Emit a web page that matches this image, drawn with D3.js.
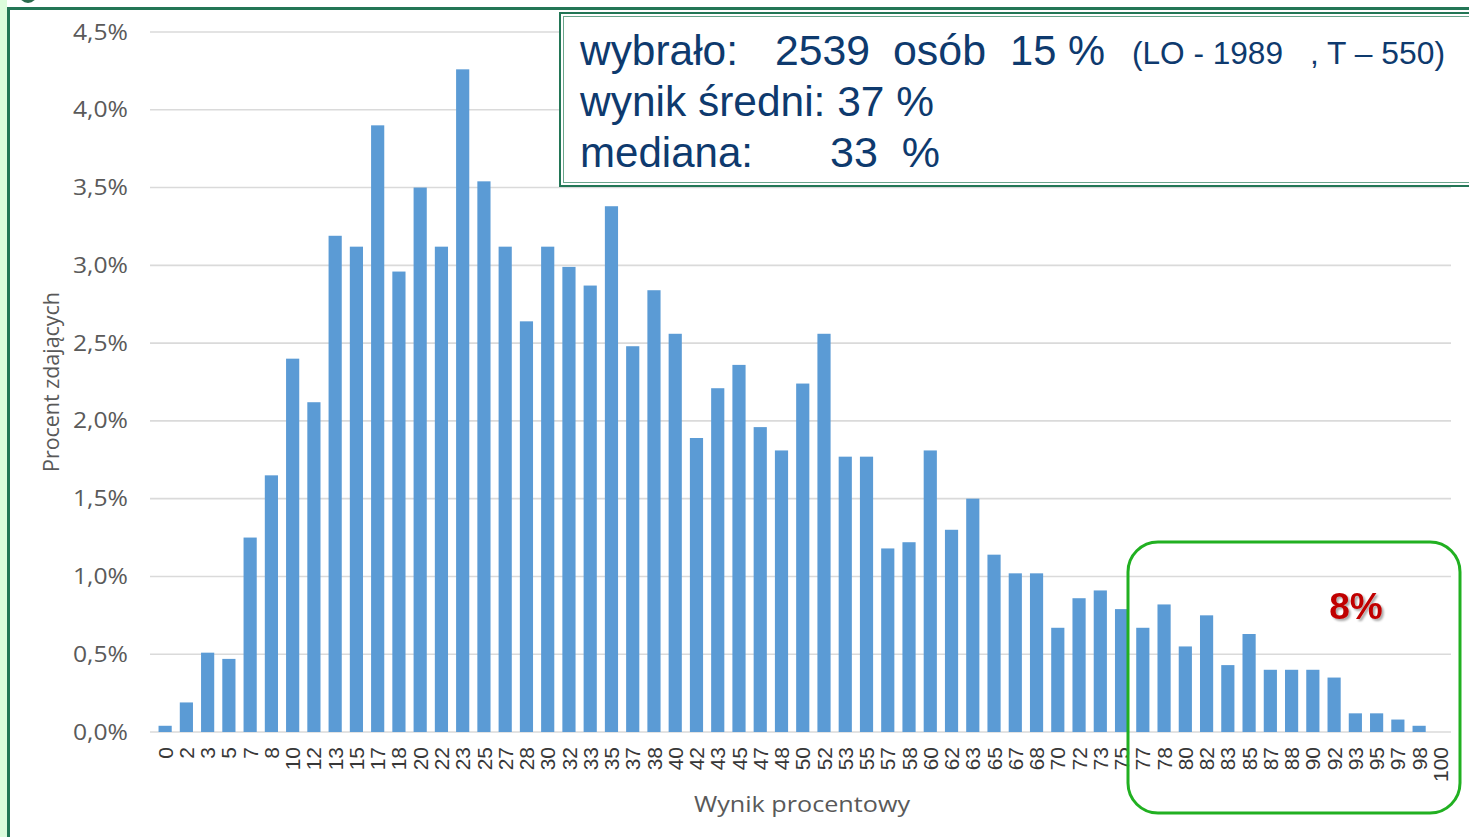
<!DOCTYPE html>
<html>
<head>
<meta charset="utf-8">
<script src="https://cdn.jsdelivr.net/npm/d3@7"></script>
<style>
  body { margin: 0; background: #fff; }
  svg { display: block; }
</style>
</head>
<body>
<div id="chart"></div>
<script>
// wynik procentowy (x categories)
let categories = ["0","2","3","5","7","8","10","12","13","15","17","18","20","22","23","25","27","28","30","32",
  "33","35","37","38","40","42","43","45","47","48","50","52","53","55","57","58","60","62","63","65",
  "67","68","70","72","73","75","77","78","80","82","83","85","87","88","90","92","93","95","97","98","100"];
// procent zdających
let values = [0.04,0.19,0.51,0.47,1.25,1.65,2.40,2.12,3.19,3.12,3.90,2.96,3.50,3.12,4.26,3.54,3.12,2.64,3.12,2.99,
  2.87,3.38,2.48,2.84,2.56,1.89,2.21,2.36,1.96,1.81,2.24,2.56,1.77,1.77,1.18,1.22,1.81,1.30,1.50,1.14,
  1.02,1.02,0.67,0.86,0.91,0.79,0.67,0.82,0.55,0.75,0.43,0.63,0.40,0.40,0.40,0.35,0.12,0.12,0.08,0.04,0];
let yTicks = [0,0.5,1,1.5,2,2.5,3,3.5,4,4.5];

let W = 1469, H = 837;
let margin = {top: 32, right: 18, left: 154.5, bottom: 105};
let svg = d3.select("#chart").append("svg").attr("width", W).attr("height", H);

// frame
svg.append("rect").attr("x",0).attr("y",0).attr("width",7).attr("height",H).attr("fill","#dcfcdc");
svg.append("path").attr("d","M8.5,"+H+"V8.5H"+W).attr("fill","none").attr("stroke","#237656").attr("stroke-width",3);
svg.append("circle").attr("cx",28).attr("cy",-6).attr("r",9).attr("fill","#2a6a4c");

let x = d3.scaleBand().domain(categories).range([margin.left, W - margin.right]).paddingInner(0.38).paddingOuter(0.19);
let y = d3.scaleLinear().domain([0, 4.5]).range([H - margin.bottom, margin.top]);

let lblFont = "'Open Sans', Lato, sans-serif";

// grid
svg.append("g").selectAll("line").data(yTicks).enter().append("line")
  .attr("x1", 150).attr("x2", 1451)
  .attr("y1", d => y(d)).attr("y2", d => y(d))
  .attr("stroke", "#dadada").attr("stroke-width", 1.6);

// y axis
let yAxis = svg.append("g").attr("transform","translate(130,0)")
  .call(d3.axisLeft(y).tickValues(yTicks).tickSize(0).tickFormat(d => d3.format(".1f")(d).replace(".", ",") + "%"));
yAxis.select(".domain").remove();
yAxis.selectAll("text").attr("font-family", lblFont).attr("font-size", 22).attr("fill", "#5a5a5a").attr("x", -2)
  .attr("textLength", 55).attr("lengthAdjust", "spacingAndGlyphs");

// bars
svg.append("g").selectAll("rect").data(values).enter().append("rect")
  .attr("x", (d,i) => x(categories[i]))
  .attr("y", d => y(d))
  .attr("width", x.bandwidth())
  .attr("height", d => y(0) - y(d))
  .attr("fill", "#5b9bd5");

// x axis
let xAxis = svg.append("g").attr("transform","translate(0," + (y(0)+15) + ")")
  .call(d3.axisBottom(x).tickSize(0));
xAxis.select(".domain").remove();
xAxis.selectAll("text")
  .attr("font-family", "'Liberation Sans', Arial, sans-serif").attr("font-size", 21).attr("fill", "#383838")
  .attr("transform", "rotate(-90)").attr("text-anchor", "end").attr("x", 0).attr("y", 0).attr("dx", 0).attr("dy", "0.36em");

// axis titles
svg.append("text").attr("transform","translate(59,382) rotate(-90)").attr("text-anchor","middle")
  .attr("font-family", lblFont).attr("font-size", 21).attr("fill","#595959")
  .attr("textLength", 180).attr("lengthAdjust", "spacingAndGlyphs").text("Procent zdających");
svg.append("text").attr("x", 802).attr("y", 812).attr("text-anchor","middle")
  .attr("font-family", lblFont).attr("font-size", 22).attr("fill","#595959")
  .attr("textLength", 216).attr("lengthAdjust", "spacingAndGlyphs").text("Wynik procentowy");

// info box
let box = svg.append("g");
box.append("rect").attr("x",560).attr("y",13).attr("width",940).attr("height",173)
  .attr("fill","#fff").attr("stroke","#237656").attr("stroke-width",2);
box.append("rect").attr("x",563.5).attr("y",16.5).attr("width",933).attr("height",166)
  .attr("fill","none").attr("stroke","#6aa58c").attr("stroke-width",1);
let infoFont = "'Liberation Sans', Arial, sans-serif";
let infoCol = "#0e3a6e";
let info = [
  {t:"wybrało:", x:580, y:65, s:43, w:158}, {t:"2539", x:775, y:65, s:43, w:95}, {t:"osób", x:893, y:65, s:43, w:93},
  {t:"15 %", x:1010, y:65, s:43, w:95}, {t:"(LO - 1989", x:1132, y:64, s:32, w:151}, {t:", T – 550)", x:1310, y:64, s:32, w:135},
  {t:"wynik średni: 37 %", x:580, y:116, s:43, w:354},
  {t:"mediana:", x:580, y:167, s:43, w:173}, {t:"33  %", x:830, y:167, s:43, w:110}
];
box.selectAll("text.info").data(info).enter().append("text").attr("class","info")
  .attr("x", d => d.x).attr("y", d => d.y).attr("font-family", infoFont).attr("font-size", d => d.s)
  .attr("fill", infoCol).attr("xml:space","preserve")
  .attr("textLength", d => d.w).attr("lengthAdjust", "spacingAndGlyphs").text(d => d.t);

// highlight of top scores
svg.append("rect").attr("x",1128).attr("y",542).attr("width",332).attr("height",271).attr("rx",30)
  .attr("fill","none").attr("stroke","#21b021").attr("stroke-width",3);
let defs = svg.append("defs");
let f = defs.append("filter").attr("id","sh");
f.append("feDropShadow").attr("dx",2).attr("dy",2).attr("stdDeviation",1.2).attr("flood-color","#000").attr("flood-opacity",0.35);
svg.append("text").attr("x",1356).attr("y",619).attr("text-anchor","middle").attr("filter","url(#sh)")
  .attr("font-family","'Liberation Sans', Arial, sans-serif").attr("font-weight","bold").attr("font-size",37)
  .attr("fill","#c00000").text("8%");
</script>
</body>
</html>
